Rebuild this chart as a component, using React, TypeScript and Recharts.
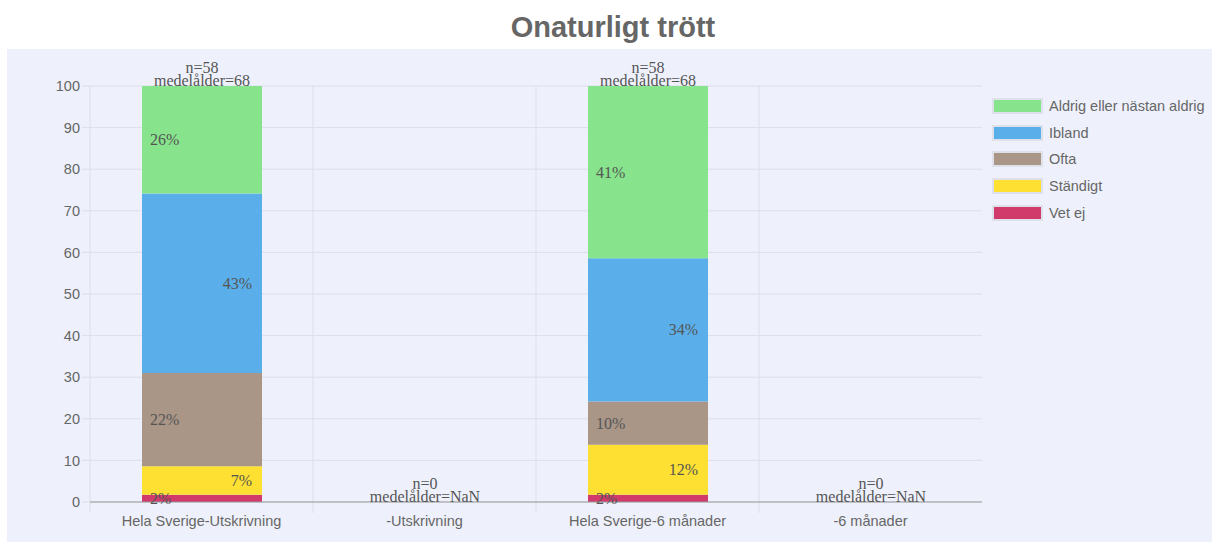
import React from 'react';
import { BarChart, Bar, XAxis, YAxis, CartesianGrid, Legend, LabelList, ReferenceLine } from 'recharts';

const categories = ['Hela Sverige-Utskrivning', '-Utskrivning', 'Hela Sverige-6 månader', '-6 månader'];
const vetEj = [1.72, 0, 1.72, 0];
const standigt = [6.9, 0, 12.07, 0];
const ofta = [22.41, 0, 10.34, 0];
const ibland = [43.1, 0, 34.48, 0];
const aldrig = [25.86, 0, 41.38, 0];
const nValues = [58, 0, 58, 0];
const medelalder = ['68', 'NaN', '68', 'NaN'];
const yTicks = [0, 10, 20, 30, 40, 50, 60, 70, 80, 90, 100];

const series = [
  { key: 'vetEj', name: 'Vet ej', color: '#d13b6b', values: vetEj },
  { key: 'standigt', name: 'Ständigt', color: '#fde031', values: standigt },
  { key: 'ofta', name: 'Ofta', color: '#a99687', values: ofta },
  { key: 'ibland', name: 'Ibland', color: '#5aafea', values: ibland },
  { key: 'aldrig', name: 'Aldrig eller nästan aldrig', color: '#87e38c', values: aldrig },
];

const data = categories.map((cat, i) => {
  const row: Record<string, string | number> = { cat, n: 'n=' + nValues[i], age: 'medelålder=' + medelalder[i], cap: 0 };
  series.forEach(s => { row[s.key] = s.values[i]; });
  return row;
});

const SERIF = "'Liberation Serif', 'Times New Roman', serif";
const SANS = "'Liberation Sans', Arial, sans-serif";
const TXT = '#555';
const GRID = '#dcdfe9';

// alternating left/right placement like the original
const pctLabel = (left: boolean) => (props: any) => {
  const { x, y, width, height, value } = props;
  if (!value) return null;
  return (
    <text
      x={left ? x + 8 : x + width - 10}
      y={y + height / 2}
      textAnchor={left ? 'start' : 'end'}
      dominantBaseline="central"
      fill={TXT}
      fontFamily={SERIF}
      fontSize={16}
    >
      {Math.round(value)}%
    </text>
  );
};

// text above the stack; dy shifts the line relative to the stack top
const topLabel = (dy: number) => (props: any) => {
  const { x, y, width, height, value } = props;
  return (
    <text x={x + width / 2} y={y + height + dy} textAnchor="middle" fill={TXT} fontFamily={SERIF} fontSize={16}>
      {value}
    </text>
  );
};

const renderLegend = () => (
  <div style={{ fontFamily: SANS, fontSize: 14.5, color: '#666', whiteSpace: 'nowrap' }}>
    {[...series].reverse().map(s => (
      <div key={s.key} style={{ display: 'flex', alignItems: 'center', height: 26.6 }}>
        <div style={{ width: 47, height: 12, flex: 'none', background: s.color, border: '2px solid #dfe1ea', marginRight: 6 }} />
        <span>{s.name}</span>
      </div>
    ))}
  </div>
);

export default function App() {
  return (
    <div style={{ position: 'absolute', left: 0, top: 0, width: 1212, height: 542, background: '#fff' }}>
      <div style={{ position: 'absolute', top: 10, left: 7, width: 1212, textAlign: 'center', fontFamily: SANS,
        fontWeight: 'bold', fontSize: 29, lineHeight: '34px', color: '#666' }}>
        Onaturligt trött
      </div>
      <div style={{ position: 'absolute', left: 7, top: 49, width: 1205, height: 493, background: '#eef1fb' }}>
        <BarChart width={1205} height={493} data={data} margin={{ top: 37, right: 230, left: 0, bottom: 0 }}>
          <CartesianGrid stroke={GRID} vertical={false} />
          <XAxis dataKey="cat" height={40} tickLine={false} tickSize={8} tickMargin={6}
            axisLine={{ stroke: '#999' }} tick={{ fill: '#666', fontSize: 14.5, fontFamily: SANS }} interval={0} />
          <YAxis domain={[0, 100]} ticks={yTicks} width={83} axisLine={false} tickSize={8}
            tickLine={{ stroke: GRID }} tick={{ fill: '#666', fontSize: 14.5, fontFamily: SANS }} />
          {categories.map(c => (
            <ReferenceLine key={c} position="start" stroke={GRID} ifOverflow="visible"
              segment={[{ x: c, y: -2.6 }, { x: c, y: 100 }]} />
          ))}
          <Legend layout="vertical" align="center" verticalAlign="middle" content={renderLegend}
            wrapperStyle={{ top: 44, left: 985, width: 220, right: 'auto', bottom: 'auto' }} />
          {series.map((s, i) => (
            <Bar key={s.key} dataKey={s.key} name={s.name} stackId="a" fill={s.color} barSize={120}
              isAnimationActive={false}>
              <LabelList dataKey={s.key} content={pctLabel(i % 2 === 0)} />
            </Bar>
          ))}
          <Bar dataKey="cap" stackId="a" fill="transparent" barSize={120} minPointSize={1}
            isAnimationActive={false} legendType="none">
            <LabelList dataKey="n" content={topLabel(-13)} />
            <LabelList dataKey="age" content={topLabel(0)} />
          </Bar>
        </BarChart>
      </div>
    </div>
  );
}
